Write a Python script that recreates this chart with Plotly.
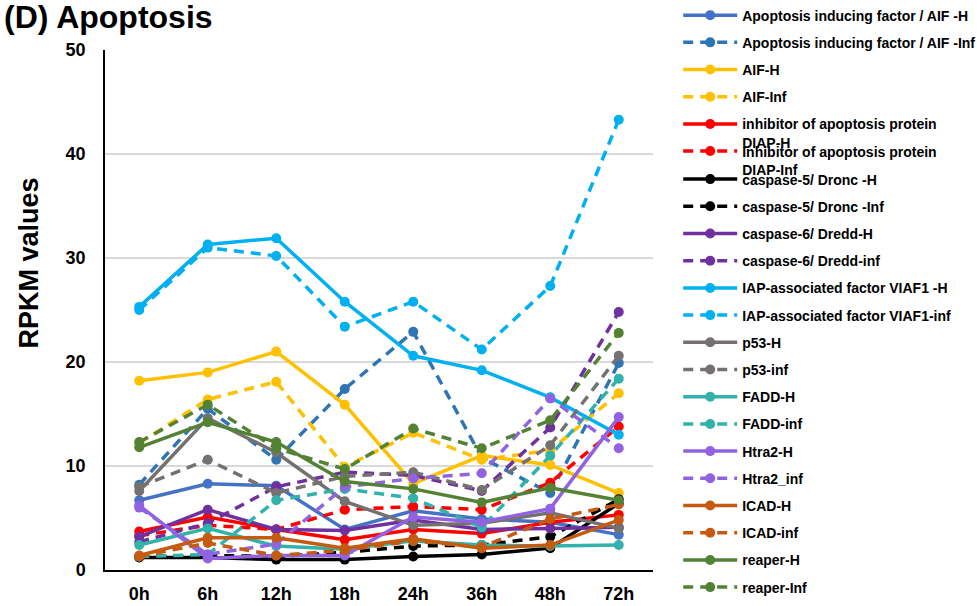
import plotly.graph_objects as go

# time points (x categories)
times = ["0h", "6h", "12h", "18h", "24h", "36h", "48h", "72h"]

# RPKM values
aif_long_h = [6.7, 8.3, 8.1, 3.9, 5.7, 4.9, 4.6, 3.4]
aif_long_inf = [8.2, 15.5, 10.6, 17.4, 22.9, 10.8, 7.4, 19.9]
aif_h = [18.2, 19.0, 21.0, 15.9, 8.3, 11.0, 10.1, 7.4]
aif_inf = [12.2, 16.4, 18.1, 9.9, 13.2, 10.6, 11.5, 17.0]
diap_h = [3.7, 5.1, 3.9, 2.9, 3.9, 3.5, 4.6, 5.3]
diap_inf = [3.3, 4.3, 3.9, 5.8, 6.1, 5.8, 8.4, 13.8]
dronc_h = [1.2, 1.2, 1.0, 1.0, 1.3, 1.5, 2.1, 6.4]
dronc_inf = [1.3, 1.4, 1.3, 1.7, 2.3, 2.4, 3.2, 6.8]
dredd_h = [3.2, 5.8, 3.9, 3.8, 4.8, 3.9, 4.0, 4.1]
dredd_inf = [2.7, 4.5, 8.0, 9.4, 9.1, 7.6, 13.7, 24.8]
viaf1_h = [25.3, 31.3, 31.9, 25.8, 20.6, 19.2, 16.6, 13.0]
viaf1_inf = [25.0, 31.0, 30.2, 23.4, 25.8, 21.2, 27.3, 43.3]
p53_h = [7.6, 14.6, 11.3, 6.6, 4.3, 4.5, 5.5, 4.0]
p53_inf = [8.0, 10.6, 7.4, 9.0, 9.4, 7.7, 12.0, 20.6]
fadd_h = [2.4, 4.0, 2.3, 2.0, 2.8, 2.4, 2.3, 2.4]
fadd_inf = [1.3, 1.5, 6.7, 7.8, 6.9, 4.1, 11.0, 18.4]
htra2_h = [6.2, 1.1, 1.4, 1.4, 5.1, 4.6, 5.9, 14.7]
htra2_inf = [6.0, 1.5, 2.5, 8.0, 8.8, 9.3, 16.5, 11.7]
icad_h = [1.4, 3.1, 3.1, 2.1, 3.0, 2.1, 2.4, 4.8]
icad_inf = [1.3, 2.6, 1.4, 1.9, 2.8, 2.2, 4.9, 6.3]
reaper_h = [11.8, 14.2, 12.3, 8.5, 7.8, 6.5, 7.9, 6.7]
reaper_inf = [12.3, 15.9, 11.7, 9.7, 13.6, 11.7, 14.4, 22.8]

FONT = "Arial, Liberation Sans, sans-serif"
DASH = "10px,7px"

# name, values, colour, dashed?, legend box
series = [
    ("Apoptosis inducing factor / AIF -H", aif_long_h, "#4472C4", False, "legend"),
    ("Apoptosis inducing factor / AIF -Inf", aif_long_inf, "#2E75B6", True, "legend"),
    ("AIF-H", aif_h, "#FFC000", False, "legend"),
    ("AIF-Inf", aif_inf, "#FFC000", True, "legend"),
    ("inhibitor of apoptosis protein<br>DIAP-H", diap_h, "#FF0000", False, "legend"),
    ("Inhibitor of apoptosis protein<br>DIAP-Inf", diap_inf, "#FF0000", True, "legend2"),
    ("caspase-5/ Dronc -H", dronc_h, "#000000", False, "legend3"),
    ("caspase-5/ Dronc -Inf", dronc_inf, "#000000", True, "legend3"),
    ("caspase-6/ Dredd-H", dredd_h, "#7030A0", False, "legend3"),
    ("caspase-6/ Dredd-inf", dredd_inf, "#7030A0", True, "legend3"),
    ("IAP-associated factor VIAF1 -H", viaf1_h, "#00B0F0", False, "legend3"),
    ("IAP-associated factor VIAF1-inf", viaf1_inf, "#00B0F0", True, "legend3"),
    ("p53-H", p53_h, "#767171", False, "legend3"),
    ("p53-inf", p53_inf, "#767171", True, "legend3"),
    ("FADD-H", fadd_h, "#31B2AA", False, "legend3"),
    ("FADD-inf", fadd_inf, "#31B2AA", True, "legend3"),
    ("Htra2-H", htra2_h, "#9163E0", False, "legend3"),
    ("Htra2_inf", htra2_inf, "#9163E0", True, "legend3"),
    ("ICAD-H", icad_h, "#C55A11", False, "legend3"),
    ("ICAD-inf", icad_inf, "#C55A11", True, "legend3"),
    ("reaper-H", reaper_h, "#548235", False, "legend3"),
    ("reaper-Inf", reaper_inf, "#548235", True, "legend3"),
]

fig = go.Figure()
for i, (name, vals, col, dashed, leg) in enumerate(series):
    fig.add_trace(go.Scatter(
        x=times, y=vals, name=name,
        mode="lines+markers",
        line=dict(color=col, width=3.5, dash=DASH if dashed else "solid"),
        marker=dict(color=col, size=10),
        legend=leg, legendgroup="g%d" % i,
    ))

leg_common = dict(
    font=dict(family=FONT, size=14, color="black", weight="bold"),
    bgcolor="rgba(0,0,0,0)", tracegroupgap=6.0, itemwidth=54,
    x=1.046, xanchor="left", yanchor="top", valign="top",
)

# y title placed by hand, as in the original it sits above centre
ytitle = dict(text="RPKM values", textangle=-90, showarrow=False,
              xref="paper", yref="paper", x=-0.138, y=0.59,
              xanchor="center", yanchor="middle",
              font=dict(family=FONT, size=27, color="black", weight="bold"))

fig.update_layout(
    width=977, height=606,
    paper_bgcolor="white", plot_bgcolor="white",
    margin=dict(l=105, r=324, t=50, b=36, autoexpand=False),
    title=dict(text="(D) Apoptosis", x=4 / 977, xanchor="left", xref="container",
               y=1 - 17 / 606, yanchor="middle", yref="container",
               font=dict(family=FONT, size=32, color="black", weight="bold")),
    legend=dict(y=1.097, **leg_common),
    legend2=dict(y=0.8356, **leg_common),
    legend3=dict(y=0.7817, **leg_common),
    annotations=[ytitle],
    xaxis=dict(type="category", range=[-0.5, 7.5], showgrid=False, ticks="",
               showline=True, linecolor="black", linewidth=1.5,
               tickfont=dict(family=FONT, size=18, color="black", weight="bold"),
               ticklabelstandoff=7),
    yaxis=dict(range=[0, 50], dtick=10, showgrid=True, gridcolor="#D9D9D9", gridwidth=1.5,
               zeroline=False, showline=True, linecolor="black", linewidth=1.5, ticks="",
               tickfont=dict(family=FONT, size=18, color="black", weight="bold"),
               ticklabelstandoff=14),
)

fig.write_html("out.html", config={"displayModeBar": False},
               post_script="document.body.style.margin='0';")
